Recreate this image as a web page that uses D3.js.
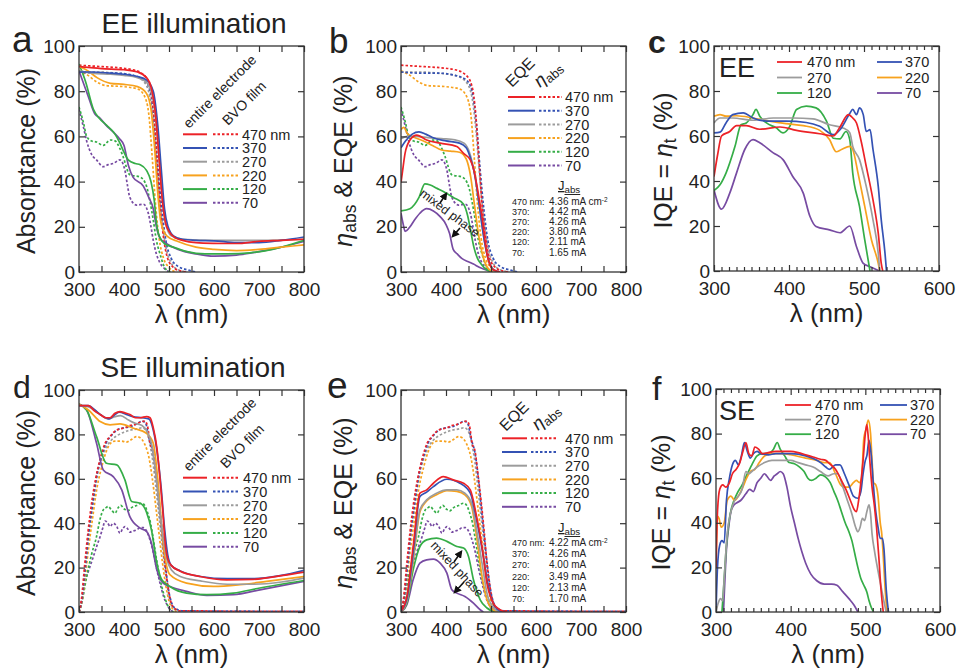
<!DOCTYPE html>
<html>
<head>
<meta charset="utf-8">
<script src="https://cdn.jsdelivr.net/npm/d3@7"></script>
<style>
  body { margin: 0; background: #fff; }
  svg text { font-family: "Liberation Sans", Arial, sans-serif; fill: #222; }
</style>
</head>
<body>
<svg id="fig" width="957" height="672"></svg>
<script>
// ---- data ----
const thicknesses = ["470", "370", "270", "220", "120", "70"];
const palette = ["#ec2227", "#3452b4", "#9c9c9c", "#f7a21e", "#35ad47", "#774ba2"];

const xTicksWide = [300, 350, 400, 450, 500, 550, 600, 650, 700, 750, 800];
const xLabelsWide = [300, 400, 500, 600, 700, 800];
const xTicksIQE = [300, 400, 500, 600];
const yTicks = [0, 20, 40, 60, 80, 100];

// EE: absorptance of entire electrode (a, solid)
const eeElectrode = [
  [[300,91],[320,90.5],[350,90],[400,89.5],[430,88.5],[450,86],[460,82],[470,70],[478,50],[485,32],[492,22],[500,18],[515,15],[530,14],[560,13],[600,12.7],[650,12.6],[700,13.6],[750,14],[800,14.5]],
  [[300,88.5],[330,88.5],[370,88],[400,87.5],[430,86.5],[450,85],[465,80],[475,65],[483,45],[490,28],[498,20],[510,16],[530,14.5],[560,14],[600,13.8],[650,13],[700,13],[750,14],[800,15.5]],
  [[300,89],[330,88],[370,87.5],[400,87],[430,86],[450,84],[465,76],[475,58],[483,38],[492,22],[505,16],[530,14.5],[600,14],[700,14],[800,14.5]],
  [[300,91],[320,89],[340,86],[370,83.5],[400,83],[430,82],[450,79],[460,72],[468,55],[475,35],[482,22],[495,16],[520,13.5],[560,11],[600,10],[650,9.5],[700,10],[750,11],[800,12]],
  [[300,92],[315,84],[332,72],[345,68],[361,65],[380,61],[391,57],[400,53],[410,49.5],[425,48],[436,47.5],[450,45],[460,40],[467,32],[472,22],[478,16],[490,12.5],[510,11],[540,9],[580,8],[630,8],[680,8.5],[730,10],[800,14]],
  [[300,89],[320,78],[335,70],[347,68],[360,65],[376,62],[390,59],[400,56],[410,47],[420,42],[443,38],[455,33],[465,28],[472,20],[480,15],[495,12.5],[520,10],[560,8],[600,7],[650,7.5],[700,9],[750,11],[800,13.5]]
];
// EE: absorptance of BVO film (a, dotted) = eta_abs (b, dotted)
const eeFilm = [
  [[300,91.5],[340,91],[380,90.5],[420,89.5],[445,87],[458,82],[466,70],[473,50],[480,30],[488,15],[497,6],[510,2],[525,0.5],[540,0]],
  [[300,88.5],[340,88],[380,88],[420,87],[445,85],[458,80],[468,65],[476,45],[484,28],[493,14],[505,6],[520,2.5],[540,1],[560,0]],
  [[300,88.5],[340,88.5],[380,88],[420,87],[445,84],[458,77],[467,62],[475,42],[483,25],[492,12],[505,4],[520,1],[540,0]],
  [[300,89],[320,87],[340,84],[360,82.5],[400,82],[430,81],[445,78],[455,70],[463,50],[470,30],[478,15],[488,6],[500,2],[515,0]],
  [[300,73],[310,66],[317,60],[328,58],[339,57.5],[354,56],[369,58.4],[380,58],[390,55],[398,51],[413,43],[436,42],[450,38],[458,31],[465,23],[472,14],[480,8],[488,3],[497,0.5],[505,0]],
  [[300,72],[310,64],[317,58],[328,52],[339,49.6],[354,46.6],[365,47.5],[376,48],[391,49.6],[402,45],[408,38],[413,33],[428,29.6],[443,30],[454,26],[460,20],[465,14],[472,8],[480,4],[490,1.5],[500,0]]
];
// EE: EQE (b, solid)
const eeEQE = [
  [[300,39.5],[305,47],[309,52.5],[320,58.4],[335,60.6],[357,58.4],[387,57],[424,55.5],[439,52.5],[454,49.6],[462,45],[468,39],[474,32],[480,24.5],[486,15],[491,8],[498,3],[505,1],[520,0]],
  [[300,55],[310,58],[325,61],[340,62],[355,61],[370,59.5],[400,58],[430,57],[445,55],[455,50],[465,42],[475,28],[485,14],[495,5],[505,1],[520,0]],
  [[300,59],[315,60],[335,60],[360,59.5],[390,59],[420,58.5],[440,57],[452,53],[462,45],[472,32],[482,18],[492,7],[502,2],[515,0]],
  [[300,63],[306,64],[315,61],[330,59.5],[350,58],[370,56],[390,54],[410,53.5],[430,53],[445,50],[455,42],[463,30],[472,17],[482,7],[492,2],[505,0]],
  [[300,27],[320,28],[340,33],[353,39],[365,38.5],[380,37],[395,35.5],[416,33],[439,30],[448,25],[455,18],[462,11],[470,6],[478,3.5],[490,1],[505,0]],
  [[300,26],[305,21],[309,18],[320,20],[330,23],[342,26],[357,28],[372,27],[387,24.5],[400,21],[408,17],[416,10],[425,8],[435,6],[450,4.5],[461,3.5],[475,2],[491,0.8],[505,0]]
];
// EE: IQE (c)
const eeIQE = [
  [[300,42],[305,52],[310,60],[321,62],[330,64.6],[343,64.6],[361,63],[388,64],[410,62.5],[441,61],[459,60],[468,64],[479,69.5],[485,68],[490,65.8],[496,58],[503,46.5],[512,31.6],[519,16.8],[523,3.4],[525,0]],
  [[300,61.4],[308,61.7],[316,65.8],[325,69.5],[339,70.3],[352,68],[370,66.6],[396,66.6],[423,66],[441,64.3],[459,60.6],[468,62.8],[481,70],[485,71.8],[490,69.5],[494,72.5],[499,69.5],[503,62],[508,62.8],[512,54],[519,37.6],[523,22.7],[528,7.9],[530,0]],
  [[300,65.8],[308,68],[325,68],[352,67],[379,68],[405,68],[432,67.6],[454,65],[472,63.6],[481,61.4],[485,55.4],[494,49.5],[503,37.6],[512,22.7],[519,7.9],[521,0]],
  [[300,68.8],[308,69.5],[316,68.8],[330,69],[352,68],[374,66.6],[396,65.5],[419,64.6],[441,62.5],[454,58.4],[463,53],[470,54],[481,55.4],[485,54],[492,43.5],[501,28.7],[510,13.8],[519,3.4],[521,0]],
  [[300,35.7],[308,38.3],[316,43.5],[328,55.4],[336,65],[343,65.8],[352,69.5],[356,71.8],[361,68.8],[370,65.8],[383,63.6],[392,61.4],[401,64.3],[410,71.8],[423,73.3],[436,72.5],[450,66.6],[459,59],[468,58.7],[476,62],[481,58.4],[485,43.5],[494,28.7],[501,13.8],[508,0]],
  [[300,36],[310,27.5],[321,34.6],[330,43.5],[341,54],[352,58.4],[361,57],[379,52.5],[392,49.5],[405,42],[419,34.6],[428,24.2],[436,19.8],[454,18.3],[468,17],[481,20],[490,10.8],[499,3.4],[508,1.9],[521,0]]
];

// SE: absorptance of entire electrode (d, solid)
const seElectrode = [
  [[300,93],[321,93],[335,90.5],[347,89],[360,87.5],[369,87.5],[380,89.5],[391,90.3],[402,89.7],[413,89],[425,87.5],[436,87.5],[450,88],[458,87.5],[465,83],[473,74],[480,60],[486,46],[491,32],[497,24],[505,21],[524,18.5],[569,16],[628,14.5],[687,14.7],[754,16.5],[800,18]],
  [[300,93],[320,93],[347,89],[367,87],[380,89],[390,90],[405,89],[420,88],[440,87.5],[455,87],[465,82],[475,70],[483,55],[490,38],[497,26],[505,21],[525,18.5],[570,16],[630,15],[690,15],[750,16.5],[800,18.8]],
  [[300,93],[320,92.5],[340,90],[365,87],[380,88],[392,88.5],[410,86.5],[425,85],[440,84],[452,81],[462,75],[472,60],[480,45],[488,32],[495,24],[505,19],[525,16],[570,14],[630,12.5],[690,12.5],[750,13.5],[800,15.3]],
  [[300,93.7],[321,91],[347,85.8],[369,84.3],[391,84.7],[421,82.8],[450,80.5],[465,76],[476,58],[487,31],[502,16.8],[539,13],[599,11.5],[658,12.3],[717,13.8],[800,16]],
  [[300,93.7],[317,91],[339,79],[361,67],[384,66.3],[402,59.5],[417,49.8],[436,49],[450,45],[461,37],[473,22],[484,14.5],[502,11.5],[539,8.5],[584,7.8],[643,8.5],[702,10.8],[800,14.2]],
  [[300,93.7],[317,91],[339,76],[354,64],[376,61],[395,55],[413,43],[436,37.8],[450,36.3],[461,31],[473,19],[487,13],[502,11.5],[539,9.3],[584,7.5],[643,7.8],[702,10],[800,13.8]]
];
// SE: absorptance of BVO film (d, dotted) = eta_abs (e, dotted)
const seFilm = [
  [[300,0],[305,5],[313,22],[320,36],[328,49],[337,60],[347,69],[358,76],[369,79],[380,81.5],[391,82.5],[402,83],[413,84],[425,84.5],[436,85.5],[446,86],[452,84],[458,76],[465,72],[471,62],[478,50],[485,36],[491,22],[498,11],[505,4],[513,1.5],[525,0.5],[560,0.5],[650,0.3],[800,0.3]],
  [[300,0],[306,5],[315,22],[322,36],[330,48],[340,62],[350,70],[360,76],[370,79],[385,82],[400,83],[415,83.5],[430,85],[440,86],[448,85],[456,78],[464,72],[471,62],[478,48],[485,34],[492,21],[499,10],[506,4],[515,1.5],[530,0.5],[800,0.3]],
  [[300,0],[306,5],[315,22],[322,36],[330,48],[340,61],[350,69],[360,74],[370,77],[385,79.5],[400,81],[415,82],[430,82.5],[440,83],[448,82],[456,77],[464,68],[471,56],[478,43],[485,30],[492,18],[499,8],[506,3],[515,1],[530,0.3]],
  [[300,0],[306,4],[315,18],[322,30],[330,42],[340,56],[350,65],[360,72],[370,76],[380,77],[395,77],[405,76.5],[415,77.5],[428,79],[436,78.5],[445,76],[455,70],[463,60],[471,47],[478,35],[485,23],[492,13],[500,5],[508,1.5],[520,0]],
  [[300,0],[308,6],[317,16],[328,26],[339,34],[347,42],[354,46],[360,47],[365,47.5],[372,46],[380,44.5],[387,47],[393,48],[400,46.5],[408,45.5],[417,47],[428,48],[439,49],[446,48],[452,45],[459,40],[465,33],[472,24],[480,15],[487,9],[495,4],[503,1],[510,0]],
  [[300,0],[306,4],[313,13],[322,19],[332,25],[340,30],[347,34],[353,38],[358,41],[364,40],[369,38.5],[376,40],[384,38.5],[391,35.5],[397,37.5],[402,38.5],[408,37.5],[413,36],[420,36.5],[428,37],[436,38],[443,38],[450,36.5],[457,33],[465,27],[472,20],[480,13],[488,7],[495,3.5],[503,1],[512,0]]
];
// SE: EQE (e, solid)
const seEQE = [
  [[300,0.3],[313,7],[327,29.5],[342,53.5],[357,55],[372,58],[394,61],[416,59.5],[439,58],[454,55],[468,43],[480,29.5],[491,13],[505,4],[520,1],[535,0]],
  [[300,0.3],[313,6],[327,27],[342,52],[357,54],[372,56.5],[402,59.8],[431,58],[454,53.5],[468,41.5],[483,25],[494,11.5],[509,2.5],[525,0]],
  [[300,0],[313,5],[327,24],[342,46],[357,50.5],[379,53.5],[402,55],[424,55],[442,53.5],[457,49],[468,37],[480,22],[491,8.5],[505,2],[520,0]],
  [[300,0],[313,5],[327,23],[342,45],[357,50],[379,52.8],[402,54.7],[424,54.3],[442,52.8],[457,47.5],[468,34],[480,16],[491,5.5],[505,1],[515,0]],
  [[300,0],[313,4],[327,19],[342,29.5],[357,32.5],[379,33.3],[402,31.8],[424,29.5],[439,28.8],[450,25],[461,14.5],[476,5.5],[491,1.8],[505,0.3],[515,0]],
  [[300,0],[313,3.3],[327,14.5],[342,22],[357,23.5],[372,23.8],[387,22],[402,17.5],[413,10],[424,8.5],[442,7],[461,4],[476,1],[483,0]]
];
// SE: IQE (f)
const seIQE = [
  [[300,20],[302,45],[305,55],[309,57],[313,56],[318,58],[322,62],[327,64],[332,67],[336,72],[340,76],[344,71],[348,70],[352,74],[357,73],[362,71],[370,71.5],[380,72],[390,72],[400,72],[410,71.5],[420,70.5],[430,69.5],[440,68.5],[447,68],[452,66.5],[460,64],[468,59],[474,55],[480,50],[485,46],[488,45],[491,50],[494,58],[497,68],[500,80],[502,84],[504,78],[506,68],[509,56],[512,48],[515,38],[518,25],[521,10],[523,3],[524,0]],
  [[300,0],[302,20],[305,30],[308,32],[311,31],[314,50],[318,60],[322,66],[326,68],[330,66],[334,70],[338,76],[342,72],[346,69],[350,71],[355,72],[360,71],[370,70.5],[380,71],[400,71],[420,70],[440,67],[447,65],[452,64],[460,66],[466,66],[472,62],[478,57],[484,52],[490,51],[494,54],[497,62],[500,68],[502,70],[505,77],[508,70],[511,56],[514,45],[517,38],[520,33],[523,33],[525,28],[528,10],[531,0]],
  [[300,0],[303,4],[306,6],[309,5],[311,15],[315,35],[320,45],[325,50],[330,52],[335,55],[340,63],[344,62],[348,63],[355,65],[365,67],[375,68],[390,68],[400,68],[410,67],[420,66],[430,65],[440,63],[450,61],[458,62],[463,62],[470,56],[476,50],[482,44],[487,38],[490,36],[493,38],[496,42],[499,41],[502,45],[505,48],[507,44],[509,35],[512,28],[515,22],[519,15],[523,8],[526,3],[528,0]],
  [[300,20],[302,43],[304,42],[307,38],[311,40],[315,50],[320,52],[325,50],[330,52],[336,56],[341,60],[346,63],[352,64],[358,67],[365,70],[375,71],[390,71],[400,70.5],[420,69],[435,68],[445,67],[452,67],[460,62],[467,57],[472,56],[478,56],[484,58],[488,59],[492,58],[495,60],[498,78],[501,82],[504,86],[507,80],[509,68],[511,58],[514,57],[517,52],[520,40],[522,35],[524,25],[527,8],[529,0]],
  [[308,0],[311,15],[314,30],[318,42],[322,48],[328,53],[335,57],[342,62],[348,66],[355,70],[362,71],[370,71],[377,73],[382,76],[386,73],[392,70],[398,67],[405,66.5],[412,65],[418,63],[423,60],[428,59],[434,60],[440,61.5],[447,60.5],[453,58],[458,54],[463,50],[468,45],[473,40],[478,36],[482,32],[486,26],[490,20],[494,15],[498,12],[502,9],[505,5],[508,2],[511,0]],
  [[310,0],[312,15],[314,28],[317,38],[320,45],[324,48],[328,49],[333,50],[340,53],[345,55],[350,54],[355,58],[360,60],[365,62],[368,61],[373,59],[378,61],[382,62],[386,63],[390,62],[395,56],[400,47],[405,40],[410,33],[415,27],[420,22],[427,17],[435,14],[445,12.5],[455,12.5],[462,12],[470,9],[478,6],[485,3],[490,0]]
];

const jabsEE = ["4.36", "4.42", "4.26", "3.80", "2.11", "1.65"];
const jabsSE = ["4.22", "4.26", "4.00", "3.49", "2.13", "1.70"];

// ---- drawing ----
const svg = d3.select("#fig");
const defs = svg.append("defs");
defs.append("marker")
  .attr("id", "arrowhead")
  .attr("viewBox", "0 0 10 10")
  .attr("refX", 7).attr("refY", 5)
  .attr("markerWidth", 5).attr("markerHeight", 5)
  .attr("orient", "auto")
  .append("path").attr("d", "M0,0L10,5L0,10z").attr("fill", "#111");

function styleAxis(sel) {
  sel.select(".domain").remove();
  sel.selectAll(".tick line").attr("stroke", "#333").attr("stroke-width", 1.2);
  sel.selectAll(".tick text").attr("font-size", "19px").attr("fill", "#222")
    .style("font-family", '"Liberation Sans", Arial, sans-serif');
}

function drawPanel(p) {
  const x = d3.scaleLinear().domain(p.xDomain).range([p.left, p.right]);
  const y = d3.scaleLinear().domain([0, 100]).range([p.bottom, p.top]);
  const g = svg.append("g");

  defs.append("clipPath").attr("id", "clip-" + p.id)
    .append("rect")
    .attr("x", p.left).attr("y", p.top - 1)
    .attr("width", p.right - p.left).attr("height", p.bottom - p.top + 1);

  const line = d3.line()
    .x(d => x(d[0]))
    .y(d => y(d[1]))
    .curve(d3.curveMonotoneX);

  const plot = g.append("g").attr("clip-path", `url(#clip-${p.id})`);
  // draw thin films first so the 470 nm curve ends up on top
  const order = [5, 4, 3, 2, 1, 0];
  if (p.dotted) {
    order.forEach(i => {
      plot.append("path").datum(p.dotted[i])
        .attr("d", line).attr("fill", "none")
        .attr("stroke", palette[i]).attr("stroke-width", 1.7)
        .attr("stroke-dasharray", "2.5,2");
    });
  }
  order.forEach(i => {
    plot.append("path").datum(p.solid[i])
      .attr("d", line).attr("fill", "none")
      .attr("stroke", palette[i]).attr("stroke-width", 1.7);
  });

  // axes with inward ticks on all four sides
  const major = p.wide ? xTicksWide : xTicksIQE;
  const labels = p.wide ? xLabelsWide : xTicksIQE;
  const bottom = d3.axisBottom(x).tickValues(major)
    .tickSizeInner(-6).tickSizeOuter(0).tickPadding(11)
    .tickFormat(d => labels.includes(d) ? d : "");
  g.append("g").attr("transform", `translate(0,${p.bottom})`).call(bottom).call(styleAxis);
  g.append("g").attr("transform", `translate(0,${p.top})`)
    .call(d3.axisTop(x).tickValues(major).tickSizeInner(-6).tickSizeOuter(0).tickFormat(""))
    .call(styleAxis);
  if (!p.wide) {
    const minor = d3.range(300, 601, 10).filter(v => v % 100 !== 0);
    g.append("g").attr("transform", `translate(0,${p.bottom})`)
      .call(d3.axisBottom(x).tickValues(minor).tickSizeInner(-4).tickSizeOuter(0).tickFormat(""))
      .call(styleAxis);
    g.append("g").attr("transform", `translate(0,${p.top})`)
      .call(d3.axisTop(x).tickValues(minor).tickSizeInner(-4).tickSizeOuter(0).tickFormat(""))
      .call(styleAxis);
  }
  g.append("g").attr("transform", `translate(${p.left},0)`)
    .call(d3.axisLeft(y).tickValues(yTicks).tickSizeInner(-6).tickSizeOuter(0).tickPadding(4))
    .call(styleAxis);
  g.append("g").attr("transform", `translate(${p.right},0)`)
    .call(d3.axisRight(y).tickValues(yTicks).tickSizeInner(-6).tickSizeOuter(0).tickFormat(""))
    .call(styleAxis);

  g.append("rect")
    .attr("x", p.left).attr("y", p.top)
    .attr("width", p.right - p.left).attr("height", p.bottom - p.top)
    .attr("fill", "none").attr("stroke", "#333").attr("stroke-width", 1.3);

  // x title
  g.append("text")
    .attr("x", (p.left + p.right) / 2).attr("y", p.bottom + 51)
    .attr("text-anchor", "middle").attr("font-size", "26px")
    .text("\u03bb (nm)");

  // y title
  const yt = g.append("text")
    .attr("transform", `translate(${p.yTitleX},${(p.top + p.bottom) / 2 + 2}) rotate(-90)`)
    .attr("text-anchor", "middle").attr("font-size", "25px");
  p.yTitle.forEach(part => {
    const t = yt.append("tspan").text(part.t);
    if (part.italic) t.attr("font-style", "italic");
    if (part.sub) t.attr("font-size", "70%").attr("baseline-shift", "-22%");
  });

  // panel letter
  g.append("text")
    .attr("x", p.letterX).attr("y", p.letterY)
    .attr("font-size", p.letterSize + "px")
    .attr("font-weight", p.letterBold ? "bold" : "normal")
    .text(p.letter);

  return { x, y, g };
}

function pairLegend(g, o) {
  thicknesses.forEach((t, i) => {
    const yy = o.y0 + i * o.dy;
    g.append("line").attr("x1", o.s[0]).attr("x2", o.s[1]).attr("y1", yy).attr("y2", yy)
      .attr("stroke", palette[i]).attr("stroke-width", 2);
    g.append("line").attr("x1", o.d[0]).attr("x2", o.d[1]).attr("y1", yy).attr("y2", yy)
      .attr("stroke", palette[i]).attr("stroke-width", 2).attr("stroke-dasharray", "2.5,2");
    g.append("text").attr("x", o.tx).attr("y", yy).attr("dy", "0.36em")
      .attr("font-size", "14.5px").text(i === 0 ? t + " nm" : t);
  });
}

function rotLabel(g, x, y, angle, parts, size) {
  const t = g.append("text")
    .attr("transform", `translate(${x},${y}) rotate(${angle})`)
    .attr("font-size", size + "px");
  parts.forEach(part => {
    const s = t.append("tspan").text(part.t);
    if (part.italic) s.attr("font-style", "italic");
    if (part.sub) s.attr("font-size", "70%").attr("baseline-shift", "-22%");
  });
}

function iqeLegend(g, o) {
  thicknesses.forEach((t, i) => {
    const col = i % 2 === 0 ? o.c1 : o.c2;
    const yy = o.y0 + Math.floor(i / 2) * o.dy;
    g.append("line").attr("x1", col[0]).attr("x2", col[1]).attr("y1", yy).attr("y2", yy)
      .attr("stroke", palette[i]).attr("stroke-width", 1.8);
    g.append("text").attr("x", col[2]).attr("y", yy).attr("dy", "0.36em")
      .attr("font-size", "14.5px").text(i === 0 ? t + " nm" : t);
  });
  g.append("text").attr("x", o.tagX).attr("y", o.tagY)
    .attr("font-size", "27px").text(o.tag);
}

function jabsBlock(g, o, values) {
  const head = g.append("text").attr("x", o.hx).attr("y", o.hy)
    .attr("font-size", "13px").attr("text-decoration", "underline");
  head.append("tspan").text("J");
  head.append("tspan").text("abs").attr("font-size", "75%").attr("baseline-shift", "-25%");
  values.forEach((v, i) => {
    const yy = o.y0 + i * o.dy;
    g.append("text").attr("x", o.lx).attr("y", yy).attr("font-size", "9px")
      .text(i === 0 ? thicknesses[i] + " nm:" : thicknesses[i] + ":");
    const t = g.append("text").attr("x", o.vx).attr("y", yy)
      .attr("font-size", "10px").text(v + " mA" + (i === 0 ? " cm" : ""));
    if (i === 0) t.append("tspan").text("-2").attr("font-size", "65%").attr("baseline-shift", "super");
  });
}

function arrow(g, x1, y1, x2, y2) {
  g.append("line").attr("x1", x1).attr("y1", y1).attr("x2", x2).attr("y2", y2)
    .attr("stroke", "#111").attr("stroke-width", 1.6).attr("marker-end", "url(#arrowhead)");
}

const absTitle = [{ t: "Absorptance (%)" }];
const eqeTitle = [{ t: "\u03b7", italic: true }, { t: "abs", sub: true }, { t: " & EQE (%)" }];
const iqeTitle = [{ t: "IQE = " }, { t: "\u03b7", italic: true }, { t: "t", sub: true }, { t: " (%)" }];

// row titles
svg.append("text").attr("x", 194).attr("y", 33).attr("text-anchor", "middle")
  .attr("font-size", "28px").text("EE illumination");
svg.append("text").attr("x", 193).attr("y", 377).attr("text-anchor", "middle")
  .attr("font-size", "28px").text("SE illumination");

// a
const pa = drawPanel({ id: "a", left: 79, right: 304, top: 46, bottom: 272, xDomain: [300, 800], wide: true,
  solid: eeElectrode, dotted: eeFilm, yTitle: absTitle, yTitleX: 35,
  letter: "a", letterX: 12, letterY: 52, letterSize: 37 });
pairLegend(pa.g, { s: [183, 207], d: [213, 238], tx: 242, y0: 134.3, dy: 13.7 });
rotLabel(pa.g, 189, 129, -45, [{ t: "entire electrode" }], 14);
rotLabel(pa.g, 228, 126, -45, [{ t: "BVO film" }], 14);

// b
const pb = drawPanel({ id: "b", left: 401, right: 626, top: 46, bottom: 272, xDomain: [300, 800], wide: true,
  solid: eeEQE, dotted: eeFilm, yTitle: eqeTitle, yTitleX: 352,
  letter: "b", letterX: 329, letterY: 53, letterSize: 35 });
pairLegend(pb.g, { s: [508, 535], d: [539, 562], tx: 565, y0: 97, dy: 13.7 });
rotLabel(pb.g, 512, 88, -45, [{ t: "EQE" }], 16);
rotLabel(pb.g, 540, 88, -40, [{ t: "\u03b7", italic: true }, { t: "abs", sub: true }], 18);
jabsBlock(pb.g, { hx: 558, hy: 190, lx: 512, vx: 549, y0: 205, dy: 10.1 }, jabsEE);
rotLabel(pb.g, 419, 195, 37, [{ t: "mixed phase" }], 12.5);
arrow(pb.g, 440, 203, 446, 194);
arrow(pb.g, 460, 228, 453, 236);

// c
const pc = drawPanel({ id: "c", left: 714, right: 939, top: 46, bottom: 271, xDomain: [300, 600], wide: false,
  solid: eeIQE, yTitle: iqeTitle, yTitleX: 672,
  letter: "c", letterX: 648, letterY: 53, letterSize: 32, letterBold: true });
iqeLegend(pc.g, { c1: [777, 802, 807], c2: [877, 902, 905], y0: 62, dy: 15.5, tag: "EE", tagX: 719, tagY: 77 });

// d
const pd = drawPanel({ id: "d", left: 79, right: 304, top: 390, bottom: 612, xDomain: [300, 800], wide: true,
  solid: seElectrode, dotted: seFilm, yTitle: absTitle, yTitleX: 35,
  letter: "d", letterX: 13, letterY: 398, letterSize: 32 });
pairLegend(pd.g, { s: [183, 207], d: [213, 239], tx: 243, y0: 477.7, dy: 13.8 });
rotLabel(pd.g, 189, 472, -45, [{ t: "entire electrode" }], 14);
rotLabel(pd.g, 226, 469, -45, [{ t: "BVO film" }], 14);

// e
const pe = drawPanel({ id: "e", left: 401, right: 626, top: 390, bottom: 612, xDomain: [300, 800], wide: true,
  solid: seEQE, dotted: seFilm, yTitle: eqeTitle, yTitleX: 352,
  letter: "e", letterX: 327, letterY: 398, letterSize: 37 });
pairLegend(pe.g, { s: [502, 527], d: [531, 557], tx: 565, y0: 438.3, dy: 13.7 });
rotLabel(pe.g, 506, 432, -45, [{ t: "EQE" }], 16);
rotLabel(pe.g, 538, 431, -40, [{ t: "\u03b7", italic: true }, { t: "abs", sub: true }], 18);
jabsBlock(pe.g, { hx: 558, hy: 532, lx: 512, vx: 549, y0: 546, dy: 11.2 }, jabsSE);
rotLabel(pe.g, 430, 546, 47, [{ t: "mixed phase" }], 12.5);
arrow(pe.g, 454, 562, 461, 552);
arrow(pe.g, 464, 582, 455, 592);

// f
const pf = drawPanel({ id: "f", left: 716, right: 940, top: 389, bottom: 612, xDomain: [300, 600], wide: false,
  solid: seIQE, yTitle: iqeTitle, yTitleX: 670,
  letter: "f", letterX: 652, letterY: 400, letterSize: 34 });
iqeLegend(pf.g, { c1: [785, 811, 815], c2: [880, 907, 910], y0: 405, dy: 14.6, tag: "SE", tagX: 719, tagY: 420 });
</script>
</body>
</html>
